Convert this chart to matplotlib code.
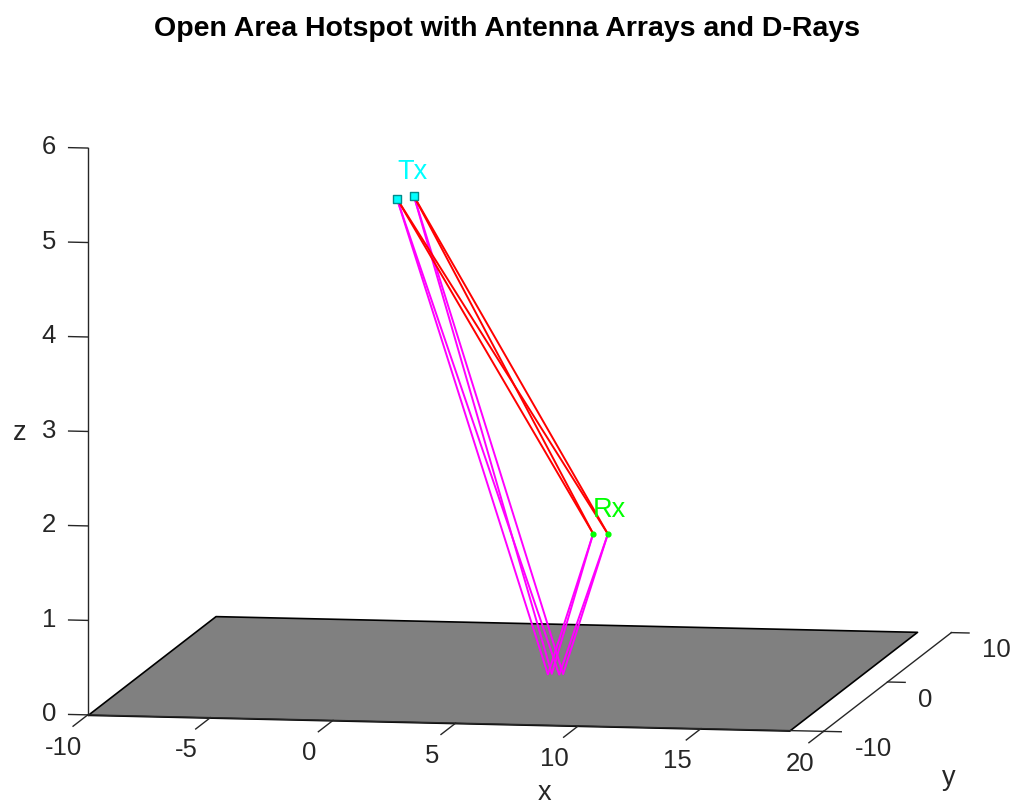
import numpy as np
import matplotlib.pyplot as plt
from mpl_toolkits.mplot3d import proj3d
from mpl_toolkits.mplot3d.art3d import Poly3DCollection

plt.rcParams['font.family'] = ['Liberation Sans', 'DejaVu Sans']
plt.rcParams['axes.unicode_minus'] = False

# ground plane extent (z = 0)
ground_x = [-10, 18.6]
ground_y = [-10, 10]

# antenna element positions
tx_x = [0.0, 0.55]
tx_y = [0.0, 0.55]
tx_z = [5.0, 5.0]
rx_x = [8.0, 8.6]
rx_y = [0.0, 0.0]
rx_z = [1.5, 1.5]

x_ticks = [-10, -5, 0, 5, 10, 15, 20]
y_ticks = [-10, 0, 10]
z_ticks = [0, 1, 2, 3, 4, 5, 6]
xlim, ylim, zlim = (-10, 20), (-10, 10), (0, 6)

axis_col = (0.15, 0.15, 0.15)
tick_fs = 18.5

fig = plt.figure(figsize=(10.13, 8.07), dpi=100)
ax = fig.add_axes([0.003, 0.0439, 1.0, 0.92], projection='3d', proj_type='ortho',
                  computed_zorder=False)
ax.view_init(elev=7.56, azim=-80.34)
ax.set_box_aspect((748, 763, 573), zoom=1.582)
ax.set_xlim(*xlim)
ax.set_ylim(*ylim)
ax.set_zlim(*zlim)
ax.set_xticks([])
ax.set_yticks([])
ax.set_zticks([])
ax.set_axis_off()


def label(x, y, z, s, **kw):
    # place a flat 2D text at the projected position of a 3D point
    px, py, _ = proj3d.proj_transform(x, y, z, ax.get_proj())
    return ax.text2D(px, py, s, transform=ax.transData, **kw)


# ground
gx0, gx1 = ground_x
gy0, gy1 = ground_y
plane = Poly3DCollection([[(gx0, gy0, 0), (gx1, gy0, 0), (gx1, gy1, 0), (gx0, gy1, 0)]],
                         facecolor=(0.5, 0.5, 0.5), edgecolor='black', linewidth=1.2,
                         zorder=1)
plane.set_clip_on(False)
ax.add_collection3d(plane)

# direct and ground-reflected rays between every Tx/Rx element pair
for xt, yt, zt in zip(tx_x, tx_y, tx_z):
    for xr, yr, zr in zip(rx_x, rx_y, rx_z):
        ax.plot([xt, xr], [yt, yr], [zt, zr], color='red', lw=1.4, zorder=3,
                clip_on=False)
        f = zt / (zt + zr)
        px, py = xt + f * (xr - xt), yt + f * (yr - yt)
        ax.plot([xt, px, xr], [yt, py, yr], [zt, 0, zr], color='magenta', lw=1.4,
                zorder=2, clip_on=False)

ax.scatter(tx_x, tx_y, tx_z, marker='s', s=30, color='cyan', edgecolor='#008b8b',
           depthshade=False, zorder=4, clip_on=False)
ax.scatter(rx_x, rx_y, rx_z, marker='o', s=12, color='lime', depthshade=False,
           zorder=4, clip_on=False)
label(tx_x[0], tx_y[0], tx_z[0] + 0.28, 'Tx', color='cyan', fontsize=19.5,
      ha='left', va='center')
label(rx_x[0], rx_y[0], rx_z[0] + 0.25, 'Rx', color='lime', fontsize=19.5,
      ha='left', va='center')

# axis lines, ticks and tick labels along the box edges
x0, x1 = xlim
y0, y1 = ylim
z0, z1 = zlim
line_kw = dict(color=axis_col, lw=1.0, zorder=5, clip_on=False)
ax.plot([x0, x1], [y0, y0], [z0, z0], **line_kw)
ax.plot([x1, x1], [y0, y1], [z0, z0], **line_kw)
ax.plot([x0, x0], [y0, y0], [z0, z1], **line_kw)
for v in x_ticks:
    ax.plot([v, v], [y0, y0 - 2.3], [z0, z0], **line_kw)
    label(v, y0 - 3.75, z0 - 0.15, str(v), color=axis_col, fontsize=tick_fs,
          ha='center', va='center')
for v in y_ticks:
    ax.plot([x1, x1 + 0.72], [v, v], [z0, z0], **line_kw)
    label(x1 + 1.26, v, z0 - 0.18, str(v), color=axis_col, fontsize=tick_fs,
          ha='left', va='center')
for v in z_ticks:
    ax.plot([x0, x0 - 0.78], [y0, y0], [v, v], **line_kw)
    label(x0 - 1.3, y0, v, str(v), color=axis_col, fontsize=tick_fs,
          ha='right', va='center')

label(9.6, y0 - 3.75, z0 - 0.515, 'x', color=axis_col, fontsize=19.5,
      ha='center', va='center')
label(x1 + 1.26, 4.7, z0 - 1.25, 'y', color=axis_col, fontsize=19.5,
      ha='center', va='center')
label(x0 - 2.77, y0, 2.97, 'z', color=axis_col, fontsize=19.5,
      ha='center', va='center')

fig.suptitle('Open Area Hotspot with Antenna Arrays and D-Rays', fontsize=20.5,
             fontweight='bold', y=0.98)

fig.savefig('out.png', dpi=100)
